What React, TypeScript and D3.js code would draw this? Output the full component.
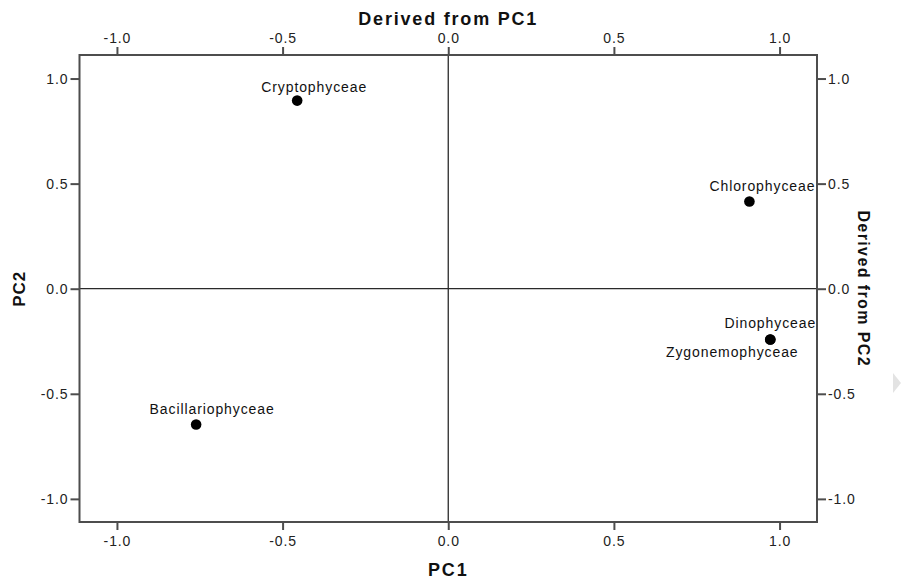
import React, { useEffect, useRef } from 'react';
import * as d3 from 'd3';

// loadings
const groups = ['Cryptophyceae', 'Chlorophyceae', 'Dinophyceae', 'Zygonemophyceae', 'Bacillariophyceae'];
const pc1 = [-0.456, 0.909, 0.972, 0.972, -0.761];
const pc2 = [0.895, 0.415, -0.242, -0.242, -0.646];
// label placement relative to its point (dx of text centre, dy of baseline)
const labelDx = [17, 13, 0, -38, 16];
const labelDy = [-9, -10, -12, 17, -10];

const tickValues = [-1.0, -0.5, 0.0, 0.5, 1.0];
const xTitle = 'PC1';
const yTitle = 'PC2';
const topTitle = 'Derived from PC1';
const rightTitle = 'Derived from PC2';

const width = 901;
const height = 585;

export default function App() {
    const marginLeft = 79.5;
    const marginRight = 84;
    const marginTop = 55;
    const marginBottom = 63;

    const ref = useRef(null);

    useEffect(() => {
        const svg = d3.select(ref.current);
        svg.selectAll('*').remove();

        const font = 'Liberation Sans, Arial, sans-serif';
        const frameColour = '#4d4d4d';

        const scaleX = d3.scaleLinear()
            .domain([-1.113, 1.113])
            .range([marginLeft, width - marginRight]);
        const scaleY = d3.scaleLinear()
            .domain([-1.11, 1.112])
            .range([height - marginBottom, marginTop]);

        const fmt = (d: number) => d.toFixed(1);

        const styleAxis = (g: any) => {
            g.select('.domain').remove();
            g.selectAll('line').attr('stroke', frameColour).attr('stroke-width', 2);
            g.selectAll('text')
                .attr('fill', '#222')
                .style('font-family', font)
                .style('font-size', '14px')
                .style('letter-spacing', '0.9px');
        };

        svg.append('g')
            .attr('transform', `translate(0, ${height - marginBottom})`)
            .call(d3.axisBottom(scaleX).tickValues(tickValues).tickFormat(fmt as any).tickSize(8).tickPadding(6))
            .call(styleAxis);
        svg.append('g')
            .attr('transform', `translate(0, ${marginTop})`)
            .call(d3.axisTop(scaleX).tickValues(tickValues).tickFormat(fmt as any).tickSize(8).tickPadding(4))
            .call(styleAxis);
        svg.append('g')
            .attr('transform', `translate(${marginLeft}, 0)`)
            .call(d3.axisLeft(scaleY).tickValues(tickValues).tickFormat(fmt as any).tickSize(9).tickPadding(2))
            .call(styleAxis);
        svg.append('g')
            .attr('transform', `translate(${width - marginRight}, 0)`)
            .call(d3.axisRight(scaleY).tickValues(tickValues).tickFormat(fmt as any).tickSize(9).tickPadding(2))
            .call(styleAxis);

        // zero reference lines
        svg.append('line')
            .attr('x1', scaleX(0)).attr('x2', scaleX(0))
            .attr('y1', marginTop).attr('y2', height - marginBottom)
            .attr('stroke', '#2a2a2a').attr('stroke-width', 1.3);
        svg.append('line')
            .attr('x1', marginLeft).attr('x2', width - marginRight)
            .attr('y1', scaleY(0)).attr('y2', scaleY(0))
            .attr('stroke', '#2a2a2a').attr('stroke-width', 1.3);

        // frame
        svg.append('rect')
            .attr('x', marginLeft)
            .attr('y', marginTop)
            .attr('width', width - marginRight - marginLeft)
            .attr('height', height - marginBottom - marginTop)
            .attr('fill', 'none')
            .attr('stroke', frameColour)
            .attr('stroke-width', 2);

        const points = groups.map((g, i) => ({ name: g, x: pc1[i], y: pc2[i], dx: labelDx[i], dy: labelDy[i] }));

        svg.selectAll('circle.pt')
            .data(points)
            .enter()
            .append('circle')
              .attr('class', 'pt')
              .attr('cx', d => scaleX(d.x))
              .attr('cy', d => scaleY(d.y))
              .attr('r', 5.3)
              .attr('fill', '#000');

        svg.selectAll('text.lbl')
            .data(points)
            .enter()
            .append('text')
              .attr('class', 'lbl')
              .attr('x', d => scaleX(d.x) + d.dx)
              .attr('y', d => scaleY(d.y) + d.dy)
              .attr('text-anchor', 'middle')
              .attr('fill', '#111')
              .style('font-family', font)
              .style('font-size', '14px')
              .style('letter-spacing', '0.9px')
              .text(d => d.name);

        const titleStyle = (size: number, spacing: number) => (t: any) => t
            .attr('fill', '#111')
            .style('font-family', font)
            .style('font-size', `${size}px`)
            .style('font-weight', 'bold')
            .style('letter-spacing', `${spacing}px`)
            .attr('text-anchor', 'middle');

        svg.append('text')
            .attr('x', scaleX(0)).attr('y', 25)
            .text(topTitle).call(titleStyle(18, 1.8));
        svg.append('text')
            .attr('x', scaleX(0)).attr('y', 576)
            .text(xTitle).call(titleStyle(18, 1.8));
        svg.append('text')
            .attr('transform', `translate(25, ${scaleY(0)}) rotate(-90)`)
            .text(yTitle).call(titleStyle(17, 1));
        svg.append('text')
            .attr('transform', `translate(858, ${scaleY(0)}) rotate(90)`)
            .text(rightTitle).call(titleStyle(16, 1.4));

        // faint scroll arrow at the right edge of the screenshot
        svg.append('path')
            .attr('d', 'M893,373 L901,383 L893,393 Z')
            .attr('fill', '#e3e3e3');
    }, []);

    return (
        <svg ref={ref} width={width} height={height} viewBox={`0 0 ${width} ${height}`}
            style={{ position: 'absolute', left: 0, top: 0, background: '#fff' }}>
        </svg>
    );
}
